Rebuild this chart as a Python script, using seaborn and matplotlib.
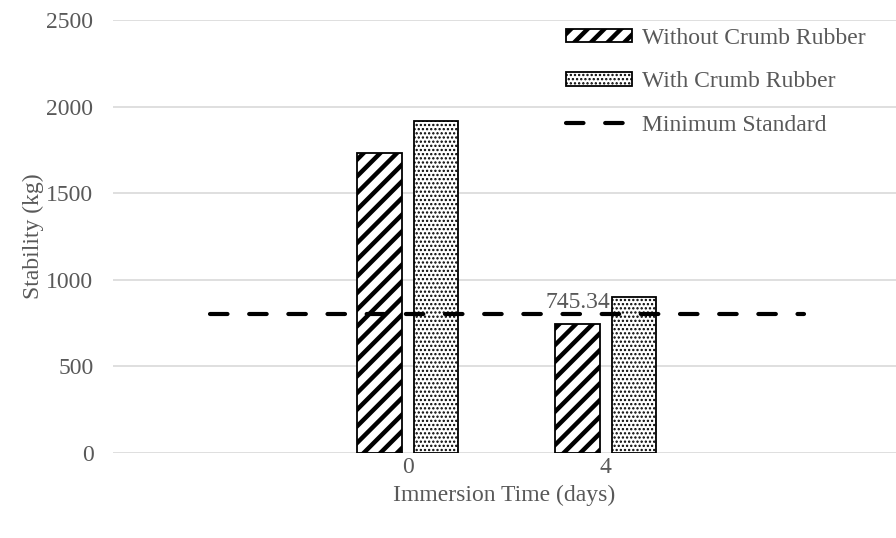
import pandas as pd
import matplotlib.pyplot as plt
import seaborn as sns
from matplotlib.patches import Patch
from matplotlib.lines import Line2D

# data
days = ["0", "4"]
without_cr = [1730, 745.34]
with_cr = [1915, 900]
min_standard = 800
series_names = ["Without Crumb Rubber", "With Crumb Rubber"]

# empty categories on both sides, as in the excel chart
order = ["", "0", "4", " "]

df = pd.DataFrame({
    "Immersion Time (days)": days * 2,
    "Stability (kg)": without_cr + with_cr,
    "Type": [series_names[0]] * len(days) + [series_names[1]] * len(days),
})

sns.set_style("white")
plt.rcParams["font.family"] = ["Liberation Serif", "DejaVu Serif"]
plt.rcParams["hatch.linewidth"] = 3.2
txt = "#595959"
dot_lw = 1.1


def thin_hatch(p, lw):
    if hasattr(p, "set_hatch_linewidth"):
        p.set_hatch_linewidth(lw)
    else:
        p._hatch_linewidth = lw


fig = plt.figure(figsize=(8.96, 5.38), dpi=100)
ax = fig.add_axes([0.126, 0.158, 0.874, 0.805])

sns.barplot(data=df, x="Immersion Time (days)", y="Stability (kg)", hue="Type",
            order=order, hue_order=series_names, width=0.566, gap=0.2,
            palette=["white", "white"], edgecolor="black", linewidth=1.3,
            legend=False, ax=ax)

# hatching: stripes for first series, dots for second
hatches = ["//", "...."]
for cont, h in zip(ax.containers, hatches):
    for bar in cont:
        bar.set_hatch(h)
        if h == "....":
            thin_hatch(bar, dot_lw)

# minimum standard line over all categories
line_df = pd.DataFrame({"x": list(range(len(order))), "y": [min_standard] * len(order)})
sns.lineplot(data=line_df, x="x", y="y", color="black", linewidth=3,
             ax=ax, legend=False)
ax.lines[-1].set_dashes([4.2, 5.2])
ax.lines[-1].set_dash_capstyle("round")

# label for the low value
b = ax.containers[0][0]
for bar in ax.containers[0]:
    if abs(bar.get_height() - without_cr[1]) < 1e-6:
        b = bar
ax.text(b.get_x() + b.get_width() / 2, b.get_height() + 65, f"{without_cr[1]:.2f}",
        ha="center", va="bottom", fontsize=17, color=txt)

ax.set_ylim(0, 2500)
ax.set_yticks(range(0, 2501, 500))
ax.set_xlim(-0.49, 3.465)
ax.set_xticks(range(len(order)))
ax.set_xticklabels(order)
ax.yaxis.grid(True, color="#d9d9d9", linewidth=1.2)
ax.set_axisbelow(True)
for s in ax.spines.values():
    s.set_visible(False)
ax.tick_params(axis="both", length=0, labelsize=17, labelcolor=txt)
ax.tick_params(axis="y", pad=14)
ax.tick_params(axis="x", pad=3)
ax.set_xlabel("Immersion Time (days)", fontsize=17, color=txt, labelpad=5)
ax.set_ylabel("Stability (kg)", fontsize=17, color=txt, labelpad=2)

handles = [
    Patch(facecolor="white", edgecolor="black", hatch="//", linewidth=1.3),
    Patch(facecolor="white", edgecolor="black", hatch="....", linewidth=1.3),
    Line2D([0], [0], color="black", linewidth=3, dashes=[4.2, 5.2],
           dash_capstyle="round"),
]
leg = ax.legend(handles, series_names + ["Minimum Standard"], loc="upper right",
                bbox_to_anchor=(0.982, 1.02), frameon=False, fontsize=17,
                handlelength=2.8, handleheight=0.5, handletextpad=0.4,
                labelspacing=0.95, borderaxespad=0.3)
for t in leg.get_texts():
    t.set_color(txt)
thin_hatch(leg.legend_handles[1], dot_lw)

fig.savefig("out.png", dpi=100)
